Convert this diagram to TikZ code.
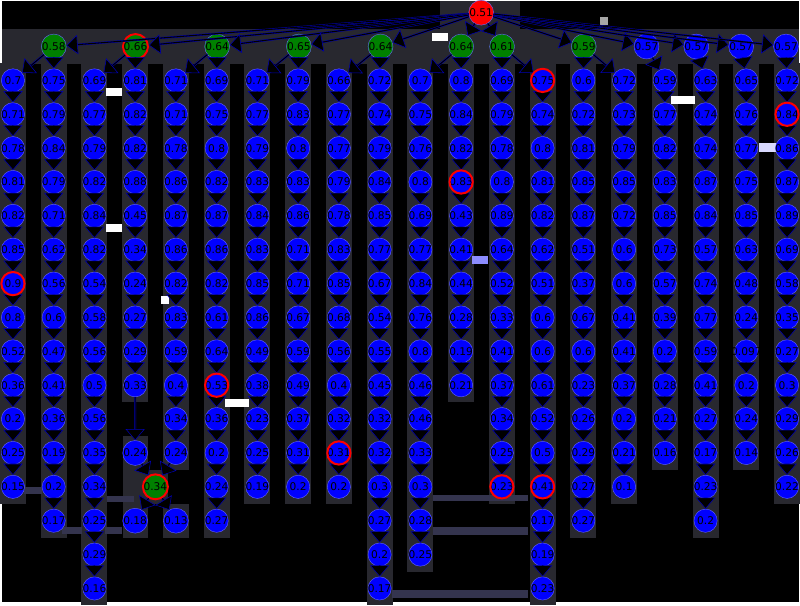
\documentclass[tikz,border=0pt]{standalone}
\usepackage{fontspec}
\setmainfont{DejaVu Sans}
\usetikzlibrary{arrows.meta}
\definecolor{vblue}{HTML}{0000FF}
\definecolor{vgreen}{HTML}{008000}
\definecolor{vred}{HTML}{FF0000}
\definecolor{smear}{HTML}{34344E}
\definecolor{haze}{HTML}{28282F}

\tikzset{
  vnode/.style={circle,fill=vblue,draw=blue!60!white,line width=0.3pt,text=black,
                minimum size=17.5pt,inner sep=0pt,font=\fontsize{8}{8}\selectfont},
  gnode/.style={vnode,fill=vgreen},
  rnode/.style={vnode,fill=vred},
  hitring/.style={draw=vred,line width=1.5pt},
  link/.style={-{Triangle[length=8.5pt,width=14.5pt,fill=black,line width=0.4pt]},
               draw=blue!70!black,double=black,double distance=0.8pt,line width=0.35pt},
  halo/.style={fill=haze},
}

\begin{document}
\begin{tikzpicture}[x=0.75pt,y=-0.75pt]
  \fill[black] (0,0) rectangle (800,604);
  % grey haze behind the columns
  \fill[halo] (0,28) rectangle (800,64);
  \fill[halo] (440,0) rectangle (520,28);
  \foreach \col/\last in {1/14,2/15,3/17,4/11,5/13,6/15,7/14,8/14,9/14,10/17,
                          11/16,12/11,13/14,14/17,15/15,16/14,17/13,18/15,19/13,20/14} {
    \pgfmathsetmacro\cx{11+40.9*(\col-1)}
    \fill[halo] (\cx-13,63) rectangle (\cx+13,{34*\last+29});
  }
  \fill[halo] (121,437) rectangle (147,539);
  \fill[halo] (162,505) rectangle (188,539);
  \fill[halo] (141,471) rectangle (167,505);
  % faint blocks behind the tree
  \fill[white] (104,88) rectangle (120,96);
  \fill[white] (432,32) rectangle (448,40);
  \fill[white] (672,96) rectangle (696,104);
  \fill[white] (104,224) rectangle (120,232);
  \fill[white] (160,296) rectangle (168,304);
  \fill[white] (224,400) rectangle (248,408);
  \fill[gray!70] (600,16) rectangle (608,24);
  \fill[blue!15!white] (760,143) rectangle (777,152);
  \fill[blue!45!white] (472,256) rectangle (488,264);
  \fill[smear] (433,496) rectangle (528,502);
  \fill[smear] (433,528) rectangle (528,536);
  \fill[smear] (392,592) rectangle (528,600);
  \fill[smear] (22,488) rectangle (40,495);
  \fill[smear] (60,528) rectangle (80,535);
  \fill[smear] (103,528) rectangle (120,535);
  \fill[smear] (105,497) rectangle (133,503);

  % root and first level
  \node[rnode] (root) at (481,12) {0.51};
  \node[gnode] (l1) at (52,46) {0.58};
  \node[gnode,hitring] (l2) at (134,46) {0.66};
  \node[gnode] (l3) at (216,46) {0.64};
  \node[gnode] (l4) at (298,46) {0.65};
  \node[gnode] (l5) at (380,46) {0.64};
  \node[gnode] (l6) at (461,46) {0.64};
  \node[gnode] (l7) at (502,46) {0.61};
  \node[gnode] (l8) at (584,46) {0.59};
  \node[vnode] (l9) at (647,46) {0.57};
  \node[vnode] (l10) at (697,46) {0.57};
  \node[vnode] (l11) at (742,46) {0.57};
  \node[vnode] (l12) at (787,46) {0.57};
  \foreach \i in {1,...,12}
    \draw[link] (root) -- (l\i);

  % the chains, one per column
  \foreach \col/\vals in {
      1/{0.7,0.71,0.78,0.81,0.82,0.85,0.9,0.8,0.52,0.36,0.2,0.25,0.15},
      2/{0.75,0.79,0.84,0.79,0.71,0.62,0.56,0.6,0.47,0.41,0.36,0.19,0.2,0.17},
      3/{0.69,0.77,0.79,0.82,0.84,0.82,0.54,0.58,0.56,0.5,0.56,0.35,0.34,0.25,0.29,0.16},
      4/{0.81,0.82,0.82,0.88,0.45,0.34,0.24,0.27,0.29,0.33},
      5/{0.71,0.71,0.78,0.86,0.87,0.86,0.82,0.83,0.59,0.4,0.34,0.24},
      6/{0.69,0.75,0.8,0.82,0.87,0.86,0.82,0.61,0.64,0.53,0.36,0.2,0.24,0.27},
      7/{0.71,0.77,0.79,0.83,0.84,0.83,0.85,0.86,0.49,0.38,0.23,0.25,0.19},
      8/{0.79,0.83,0.8,0.83,0.86,0.71,0.71,0.67,0.59,0.49,0.37,0.31,0.2},
      9/{0.66,0.77,0.77,0.79,0.78,0.83,0.85,0.68,0.56,0.4,0.32,0.31,0.2},
      10/{0.72,0.74,0.79,0.84,0.85,0.77,0.67,0.54,0.55,0.45,0.32,0.32,0.3,0.27,0.2,0.17},
      11/{0.7,0.75,0.76,0.8,0.69,0.77,0.84,0.76,0.8,0.46,0.46,0.33,0.3,0.28,0.25},
      12/{0.8,0.84,0.82,0.83,0.43,0.41,0.44,0.28,0.19,0.21},
      13/{0.69,0.79,0.78,0.8,0.89,0.64,0.52,0.33,0.41,0.37,0.34,0.25,0.23},
      14/{0.75,0.74,0.8,0.81,0.82,0.62,0.51,0.6,0.6,0.61,0.52,0.5,0.41,0.17,0.19,0.23},
      15/{0.6,0.72,0.81,0.85,0.87,0.51,0.37,0.67,0.6,0.23,0.26,0.29,0.27,0.27},
      16/{0.72,0.73,0.79,0.85,0.72,0.6,0.6,0.41,0.41,0.37,0.2,0.21,0.1},
      17/{0.59,0.77,0.82,0.83,0.85,0.73,0.57,0.39,0.2,0.28,0.21,0.16},
      18/{0.63,0.74,0.74,0.87,0.84,0.57,0.74,0.77,0.59,0.41,0.27,0.17,0.23,0.2},
      19/{0.65,0.76,0.77,0.75,0.85,0.63,0.48,0.24,0.097,0.2,0.24,0.14},
      20/{0.72,0.84,0.86,0.87,0.89,0.69,0.58,0.35,0.27,0.3,0.29,0.26,0.22}} {
    \pgfmathsetmacro\cx{11+40.9*(\col-1)}
    \foreach \v [count=\k from 2] in \vals {
      \node[vnode] (n\col-\k) at (\cx,{12+34*\k}) {\makebox[0pt]{\v}};
      \ifnum\k>2
        \pgfmathtruncatemacro\prev{\k-1}
        \draw[link] (n\col-\prev) -- (n\col-\k);
      \fi
    }
  }

  % first level to the heads of the chains
  \foreach \p/\c in {1/1,1/2,2/3,2/4,3/5,3/6,4/7,4/8,5/9,5/10,6/11,6/12,
                     7/13,7/14,8/15,8/16,9/17,10/18,11/19,12/20}
    \draw[link] (l\p) -- (n\c-2);

  % the join under columns 4 and 5
  \node[vnode] (n4-13) at (133.7,454) {0.24};
  \node[gnode,hitring] (join) at (154,488) {0.34};
  \node[vnode] (n4-15) at (133.7,522) {0.18};
  \node[vnode] (n5-15) at (174.6,522) {0.13};
  \draw[link] (n4-11) -- (n4-13);
  \draw[link] (n4-13) -- (join);
  \draw[link] (n5-13) -- (join);
  \draw[link] (join) -- (n4-15);
  \draw[link] (join) -- (n5-15);

  % marked nodes
  \foreach \n in {n1-8,n6-11,n9-13,n12-5,n13-14,n14-2,n14-14,n20-3}
    \draw[hitring] (\n) circle (8.75pt);
\end{tikzpicture}
\end{document}
